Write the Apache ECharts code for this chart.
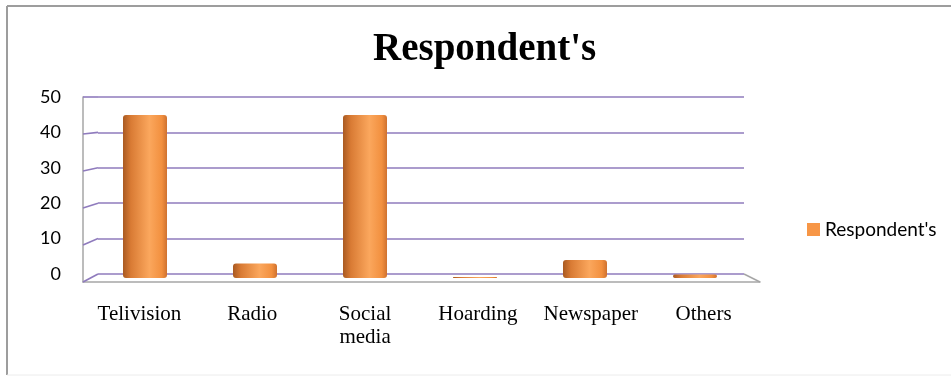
<!DOCTYPE html>
<html>
<head>
<meta charset="utf-8">
<script src="https://cdn.jsdelivr.net/npm/echarts@6/dist/echarts.min.js"></script>
<style>
  html, body { margin: 0; padding: 0; background: #fff; }
  #chart { width: 951px; height: 376px; }
</style>
</head>
<body>
<div id="chart"></div>
<script>
// Survey: where respondents heard about it
const categories = ['Telivision', 'Radio', 'Social\nmedia', 'Hoarding', 'Newspaper', 'Others'];
const respondents = [45, 4, 45, 0.3, 5, 1];
const yTicks = [0, 10, 20, 30, 40, 50];
const seriesName = "Respondent's";
const chartTitle = "Respondent's";

// Pseudo-3D box: front plane (labels/floor), middle plane (bars), back wall (grid lines)
const FRONT = { left: 83, right: 760, top: 97, bottom: 282 };
const MID   = { left: 90, right: 750, top: 97, bottom: 278 };
const BACK  = { left: 98, right: 744, top: 97, bottom: 274 };
const W = 951, H = 376;

const GRID_PURPLE = '#8f7bbd';
const AXIS_GRAY = '#a6a6a6';
const ORANGE = '#f79646';

const chart = echarts.init(document.getElementById('chart'));

const yBase = { type: 'value', min: 0, max: 50, interval: 10 };

const option = {
  animation: false,
  title: {
    text: chartTitle,
    left: 373, top: 30, padding: 0,
    textStyle: { fontFamily: 'Liberation Serif', fontWeight: 'bold', fontSize: 39, color: '#000' }
  },
  legend: {
    data: [seriesName],
    left: 802, top: 215,
    icon: 'rect', itemWidth: 13, itemHeight: 13, itemGap: 6,
    itemStyle: { color: ORANGE },
    textStyle: { fontFamily: 'Lato', fontSize: 19, color: '#000' }
  },
  grid: [
    { left: FRONT.left, right: W - FRONT.right, top: FRONT.top, bottom: H - FRONT.bottom },
    { left: MID.left, right: W - MID.right, top: MID.top, bottom: H - MID.bottom },
    { left: BACK.left, right: W - BACK.right, top: BACK.top, bottom: H - BACK.bottom }
  ],
  xAxis: [
    {
      gridIndex: 0, type: 'category', data: categories,
      axisLine: { lineStyle: { color: AXIS_GRAY, width: 1.5 } },
      axisTick: { show: false },
      axisLabel: { margin: 21, fontFamily: 'Liberation Serif', fontSize: 21, lineHeight: 23, color: '#000', interval: 0 }
    },
    { gridIndex: 1, type: 'category', data: categories, show: false },
    { gridIndex: 2, type: 'category', data: categories, show: false }
  ],
  yAxis: [
    Object.assign({}, yBase, {
      gridIndex: 0,
      axisLine: { show: true, lineStyle: { color: AXIS_GRAY, width: 1.5 } },
      axisTick: { show: false }, axisLabel: { show: false }, splitLine: { show: false }
    }),
    Object.assign({}, yBase, { gridIndex: 1, show: false, splitLine: { show: false } }),
    Object.assign({}, yBase, {
      gridIndex: 2,
      axisLine: { show: false }, axisTick: { show: false },
      axisLabel: { margin: 37, fontFamily: 'Lato', fontSize: 18, color: '#000' },
      splitLine: { show: true, lineStyle: { color: GRID_PURPLE, width: 1.6 } }
    })
  ],
  series: [
    {
      name: seriesName,
      type: 'bar',
      xAxisIndex: 1, yAxisIndex: 1,
      data: respondents,
      barWidth: 44,
      z: 5,
      itemStyle: {
        color: new echarts.graphic.LinearGradient(0, 0, 1, 0, [
          { offset: 0, color: '#a95a22' },
          { offset: 0.18, color: '#d97b34' },
          { offset: 0.6, color: '#fba75d' },
          { offset: 0.88, color: '#f2903f' },
          { offset: 1, color: '#cf7230' }
        ]),
        borderRadius: 3
      }
    }
  ]
};

chart.setOption(option);

// Floor edges and the slanted links between front and back planes
function decorate() {
  const elements = [];
  yTicks.forEach(function (v) {
    const yf = chart.convertToPixel({ yAxisIndex: 0 }, v);
    const yb = chart.convertToPixel({ yAxisIndex: 2 }, v);
    elements.push({
      type: 'line', z: 1,
      shape: { x1: FRONT.left, y1: yf, x2: BACK.left, y2: yb },
      style: { stroke: GRID_PURPLE, lineWidth: 1.6 }
    });
  });
  const yf0 = chart.convertToPixel({ yAxisIndex: 0 }, 0);
  const yb0 = chart.convertToPixel({ yAxisIndex: 2 }, 0);
  elements.push({
    type: 'line', z: 1,
    shape: { x1: BACK.right, y1: yb0, x2: FRONT.right, y2: yf0 },
    style: { stroke: AXIS_GRAY, lineWidth: 1.5 }
  });
  // outer frame
  elements.push({ type: 'line', z: 0, shape: { x1: 7, y1: 6, x2: W, y2: 6 }, style: { stroke: '#9d9d9d', lineWidth: 2 } });
  elements.push({ type: 'line', z: 0, shape: { x1: 7, y1: 6, x2: 7, y2: 375 }, style: { stroke: '#9d9d9d', lineWidth: 2 } });
  elements.push({ type: 'line', z: 0, shape: { x1: 7, y1: 375, x2: W, y2: 375 }, style: { stroke: '#ececec', lineWidth: 1 } });
  chart.setOption({ graphic: elements });
}
decorate();
</script>
</body>
</html>
